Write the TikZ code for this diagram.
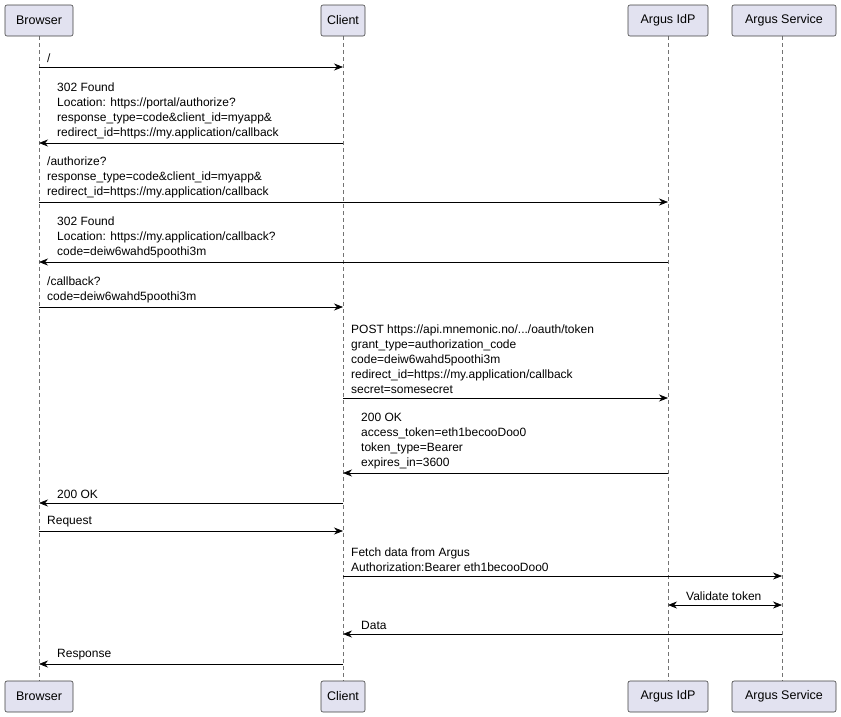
\documentclass[tikz,border=0pt]{standalone}
\usepackage{fontspec}
\setmainfont{Liberation Sans}
\usetikzlibrary{arrows.meta}
\begin{document}
\begin{tikzpicture}[x=1pt,y=-1pt,
  part/.style={draw=black!75,fill={rgb,255:red,226;green,226;blue,240},rounded corners=2pt,line width=0.6pt,inner sep=0pt,minimum height=31pt,font=\fontsize{12.5}{15}\selectfont},
  life/.style={dash pattern=on 4pt off 3pt,draw=black!55,line width=0.6pt},
  msg/.style={-{Stealth[length=9pt,width=7pt]},line width=0.6pt},
  lbl/.style={anchor=south west,inner sep=0pt,align=left,font=\fontsize{12}{15}\selectfont}]
\useasboundingbox (0,0) rectangle (841,716);
% lifelines
\foreach \n/\x in {b/39,c/343,i/668,s/782}{
  \coordinate (\n t) at (\x,36); \coordinate (\n b) at (\x,681);
  \draw[life] (\n t) -- (\n b);
}
\node[part,minimum width=68pt] (B1) at (39,20.5) {Browser};
\node[part,minimum width=44pt] (C1) at (343,20.5) {Client};
\node[part,minimum width=80pt] (I1) at (668,20.5) {Argus IdP};
\node[part,minimum width=104pt] (S1) at (784,20.5) {Argus Service};
\node[part,minimum width=68pt] (B2) at (39,696.5) {Browser};
\node[part,minimum width=44pt] (C2) at (343,696.5) {Client};
\node[part,minimum width=80pt] (I2) at (668,696.5) {Argus IdP};
\node[part,minimum width=104pt] (S2) at (784,696.5) {Argus Service};
% messages
\coordinate (b1) at (39,67); \coordinate (c1) at (343,67);
\draw[msg] (b1) -- (c1); \node[lbl] at (47,63) {/};
\coordinate (c2) at (343,143); \coordinate (b2) at (39,143);
\draw[msg] (c2) -- (b2); \node[lbl] at (57,139) {302 Found\\Location: https://portal/authorize?\\response\_type=code\&client\_id=myapp\&\\redirect\_id=https://my.application/callback};
\coordinate (b3) at (39,202); \coordinate (i3) at (668,202);
\draw[msg] (b3) -- (i3); \node[lbl] at (47,198) {/authorize?\\response\_type=code\&client\_id=myapp\&\\redirect\_id=https://my.application/callback};
\coordinate (i4) at (668,262); \coordinate (b4) at (39,262);
\draw[msg] (i4) -- (b4); \node[lbl] at (57,258) {302 Found\\Location: https://my.application/callback?\\code=deiw6wahd5poothi3m};
\coordinate (b5) at (39,307); \coordinate (c5) at (343,307);
\draw[msg] (b5) -- (c5); \node[lbl] at (47,303) {/callback?\\code=deiw6wahd5poothi3m};
\coordinate (c6) at (343,398); \coordinate (i6) at (668,398);
\draw[msg] (c6) -- (i6); \node[lbl] at (351,394) {POST https://api.mnemonic.no/.../oauth/token\\grant\_type=authorization\_code\\code=deiw6wahd5poothi3m\\redirect\_id=https://my.application/callback\\secret=somesecret};
\coordinate (i7) at (668,473); \coordinate (c7) at (343,473);
\draw[msg] (i7) -- (c7); \node[lbl] at (361,469) {200 OK\\access\_token=eth1becooDoo0\\token\_type=Bearer\\expires\_in=3600};
\coordinate (c8) at (343,503); \coordinate (b8) at (39,503);
\draw[msg] (c8) -- (b8); \node[lbl] at (57,499) {200 OK};
\coordinate (b9) at (39,531); \coordinate (c9) at (343,531);
\draw[msg] (b9) -- (c9); \node[lbl] at (47,527) {Request};
\coordinate (c10) at (343,576); \coordinate (s10) at (782,576);
\draw[msg] (c10) -- (s10); \node[lbl] at (351,572) {Fetch data from Argus\\Authorization:Bearer eth1becooDoo0};
\coordinate (i11) at (668,605); \coordinate (s11) at (782,605);
\draw[msg,{Stealth[length=9pt,width=7pt]}-{Stealth[length=9pt,width=7pt]}] (i11) -- (s11); \node[lbl] at (686,601) {Validate token};
\coordinate (s12) at (782,634); \coordinate (c12) at (343,634);
\draw[msg] (s12) -- (c12); \node[lbl] at (361,630) {Data};
\coordinate (c13) at (343,664); \coordinate (b13) at (39,664);
\draw[msg] (c13) -- (b13); \node[lbl] at (57,660) {Response};
\end{tikzpicture}
\end{document}
